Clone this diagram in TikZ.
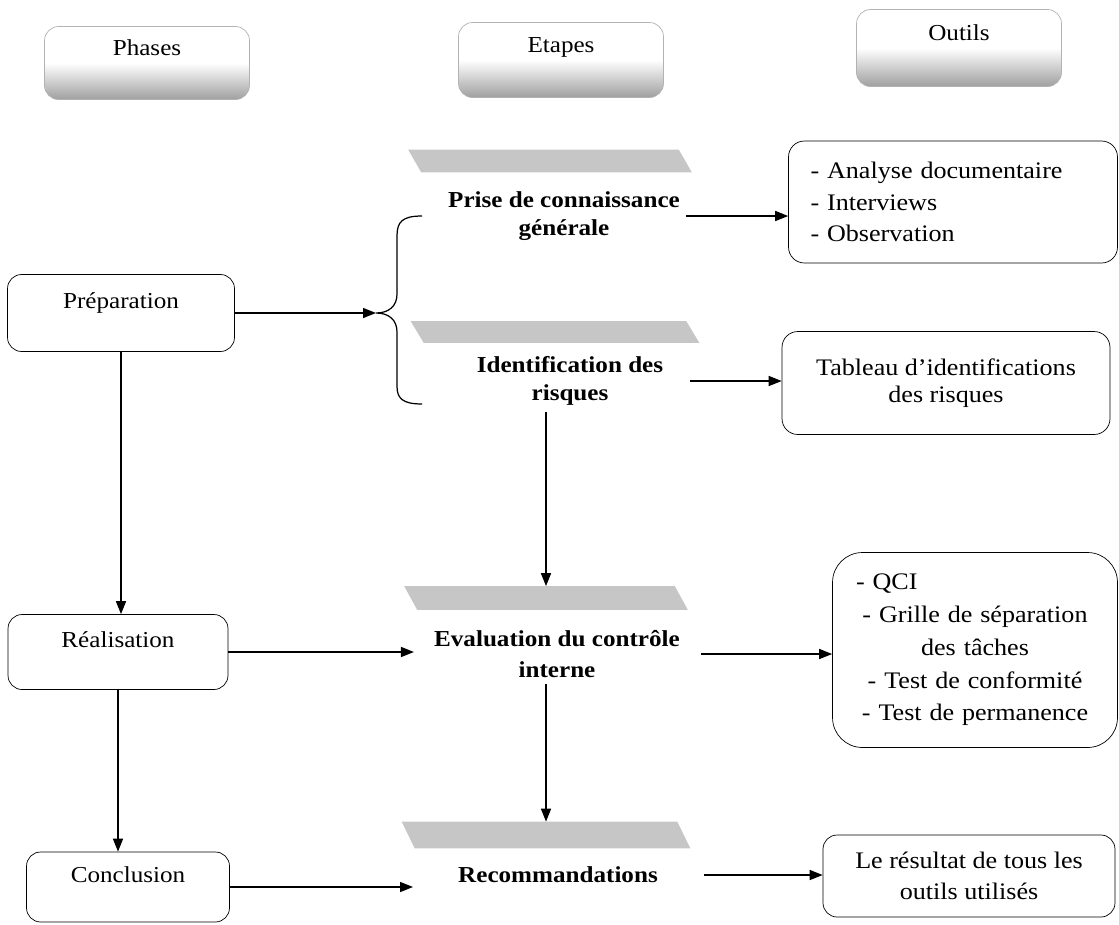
\documentclass[tikz,border=0pt]{standalone}
\usepackage{fontspec}
\setmainfont{Liberation Serif}[FakeStretch=1.1]
\usetikzlibrary{arrows.meta}

\begin{document}
\begin{tikzpicture}[
x=0.02cm, y=-0.02cm,
font=\fontsize{13}{15}\selectfont,
head/.style={draw=gray!60, rounded corners=8pt, minimum width=4.1cm, text height=0.3cm, text depth=0.62cm,
  top color=white, bottom color=gray!75, middle color=white},
phase/.style={draw, rounded corners=8pt, text height=0.3cm, text depth=0.5cm},
bar/.style={inner sep=0pt, minimum width=5.4cm, minimum height=0.44cm},
stepnode/.style={font=\fontsize{13}{16}\selectfont\bfseries, align=center},
tool/.style={draw, rounded corners=9pt, align=center, font=\fontsize{13.5}{15}\selectfont},
arr/.style={-{Triangle[length=0.26cm,width=0.2cm]}, line width=0.8pt}
]
\useasboundingbox (0,0) rectangle (1119,924);

% column headers
\node[head, minimum height=1.46cm] (phases) at (147,63) {Phases};
\node[head, minimum height=1.5cm] (etapes) at (561,60) {Etapes};
\node[head, minimum height=1.54cm] (outils) at (959,48) {Outils};

% phases
\node[phase, minimum width=4.54cm, minimum height=1.54cm] (prep) at (121,313) {Préparation};
\node[phase, minimum width=4.4cm, minimum height=1.5cm] (real) at (118,652) {Réalisation};
\node[phase, minimum width=4.06cm, minimum height=1.4cm] (conc) at (128,887) {Conclusion};

% steps
\node[bar] (bar1) at (550,161) {};
\node[bar, minimum width=5.5cm, minimum height=0.42cm] (bar2) at (555,332) {};
\node[bar, minimum height=0.46cm] (evalbar) at (546,598) {};
\node[bar, minimum width=5.5cm, minimum height=0.52cm] (recbar) at (546,835) {};
\foreach \b in {bar1,bar2,evalbar,recbar}
  \fill[gray!45] ([xshift=-0.13cm]\b.north west) -- ([xshift=-0.13cm]\b.north east)
    -- ([xshift=0.13cm]\b.south east) -- ([xshift=0.13cm]\b.south west) -- cycle;

\node[stepnode] (prise) at (564,216) {Prise de connaissance\\générale};
\node[stepnode] (ident) at (570,381) {Identification des\\risques};
\node[stepnode, font=\fontsize{13}{18}\selectfont\bfseries] (eval) at (557,654) {Evaluation du contrôle\\interne};
\node[stepnode] (recom) at (558,875) {Recommandations};

% brace
\coordinate (btop) at (422,216);
\coordinate (bbot) at (422,404);
\coordinate (tip) at (376,313);
\draw[line width=0.7pt] (btop) .. controls (402,216) and (397,222) .. (397,236) -- (397,294)
  .. controls (397,306) and (389,313) .. (tip) .. controls (389,313) and (397,320) .. (397,332)
  -- (397,386) .. controls (397,398) and (402,404) .. (bbot);

% tools
\node[tool, minimum width=6.58cm, minimum height=2.44cm, text width=5.7cm, align=left, font=\fontsize{13.5}{18}\selectfont] (docs) at (953,202) {- Analyse documentaire\\- Interviews\\- Observation};
\node[tool, minimum width=6.56cm, minimum height=2.06cm] (tab) at (946,383) {Tableau d’identifications\\des risques};
\node[tool, rounded corners=17pt, minimum width=5.7cm, minimum height=3.9cm, text width=5cm, font=\fontsize{13.5}{18.6}\selectfont] (qci) at (975,650) {\makebox[5cm][l]{\hspace*{0.12cm}- QCI}\\- Grille de séparation\\des tâches\\- Test de conformité\\- Test de permanence};
\node[tool, rounded corners=8pt, minimum width=5.84cm, minimum height=1.64cm, font=\fontsize{13.5}{17.5}\selectfont] (res) at (969,876) {Le résultat de tous les\\outils utilisés};

\draw[arr] (prep.east) -- (tip);
\draw[arr] (prep.south) -- (prep.south |- real.north);
\draw[arr] (real.south) -- (real.south |- conc.north);
\draw[arr] (real.east) -- ([xshift=-0.28cm]eval.west |- real.east);
\draw[arr] (conc.east) -- ([xshift=-0.78cm]recom.west |- conc.east);
\draw[arr] (prise.east) -- (prise.east -| docs.west);
\draw[arr] ([xshift=0.42cm]ident.east) -- (ident.east -| tab.west);
\draw[arr] (ident.south -| evalbar.north) -- (evalbar.north);
\draw[arr] ([xshift=0.3cm]eval.east) -- (eval.east -| qci.west);
\draw[arr] (eval.south -| recbar.north) -- (recbar.north);
\draw[arr] ([xshift=0.8cm]recom.east) -- (recom.east -| res.west);
\end{tikzpicture}
\end{document}
